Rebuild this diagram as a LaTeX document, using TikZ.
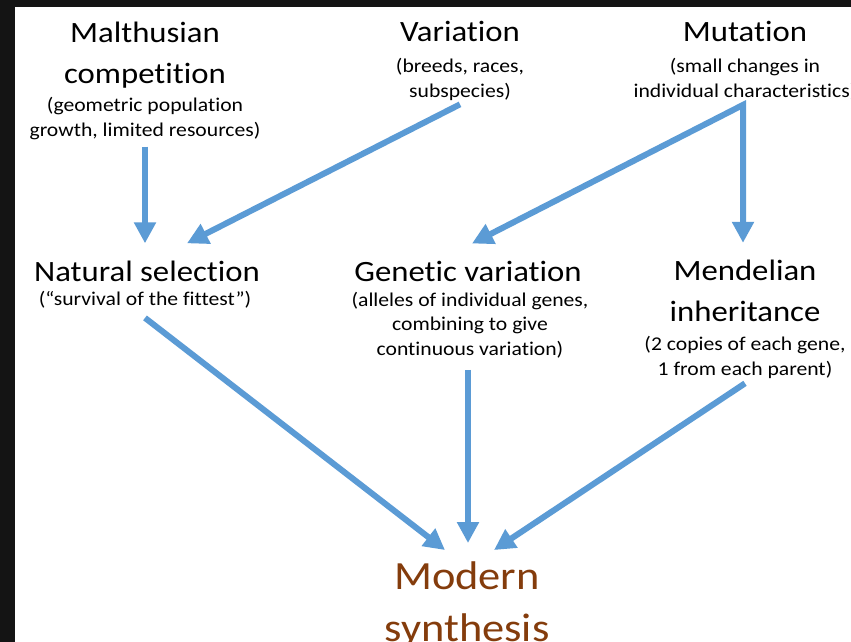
\documentclass[tikz,border=0pt]{standalone}
\usepackage{fontspec}
\setmainfont{Carlito}[FakeStretch=1.11, Ligatures=NoCommon]
\usetikzlibrary{arrows.meta,positioning}
\definecolor{flowblue}{HTML}{5B9BD5}
\definecolor{synthbrown}{HTML}{843C0C}
\definecolor{backdrop}{HTML}{141414}

\begin{document}
\begin{tikzpicture}[x=1pt, y=-1pt, >={Triangle[length=21pt,width=21pt]},
  heading/.style={align=center, anchor=base, inner sep=0pt, font=\fontsize{29.5}{40.5}\selectfont},
  note/.style={align=center, anchor=base, inner sep=0pt, font=\fontsize{19.5}{24.5}\selectfont},
  flow/.style={draw=flowblue, line width=6pt, line join=miter, ->}]
\useasboundingbox (0,0) rectangle (851,642);
\clip (0,0) rectangle (851,642);
\fill[backdrop] (0,0) rectangle (851,642);
\fill[white] (15,7) rectangle (851,642);

% the base anchor sits on the last line
\foreach \x/\y/\name/\txt in {145/83/malthus/{Malthusian\\competition}, 460/42/variation/{Variation}, 745/42/mutation/{Mutation}, 147/281/natsel/{Natural selection}, 468/281/genvar/{Genetic variation}, 745/321/mendel/{Mendelian\\inheritance}}
\node[heading] (\name) at (\x,\y) {\txt};

\foreach \x/\y/\name/\txt in {145/136/malthusnote/{(geometric population\\growth, limited resources)}, 460/97/varnote/{(breeds, races,\\subspecies)}, 745/97/mutnote/{(small changes in\\individual characteristics)}, 145/305/natselnote/{(“survival of the fittest”)}, 470/355/genvarnote/{(alleles of individual genes,\\combining to give\\continuous variation)}, 745/375/mendelnote/{(2 copies of each gene,\\1 from each parent)}}
\node[note] (\name) at (\x,\y) {\txt};

\node[heading, text=synthbrown, font=\fontsize{40}{52}\selectfont] (modern) at (467,641) {Modern\\synthesis};

% Connect the ideas with arrows
\draw[flow] ([yshift=-7pt]malthusnote.south) -- ([xshift=-2pt,yshift=17pt]natsel.north);
\draw[flow] ([yshift=-4pt]varnote.south) -- ([xshift=40pt,yshift=17pt]natsel.north);
\draw[flow, <->] ([xshift=4pt,yshift=17pt]genvar.north) -- ([xshift=-2pt,yshift=-5pt]mutnote.south) -- ([xshift=-2pt,yshift=17pt]mendel.north);
\draw[flow] ([yshift=-10pt]natselnote.south) -- ([xshift=-22pt,yshift=11pt]modern.north);
\draw[flow] ([xshift=-2pt,yshift=-12pt]genvarnote.south) -- ([xshift=1pt,yshift=18pt]modern.north);
\draw[flow] ([yshift=-5pt]mendelnote.south) -- ([xshift=27pt,yshift=11pt]modern.north);

\end{tikzpicture}
\end{document}
